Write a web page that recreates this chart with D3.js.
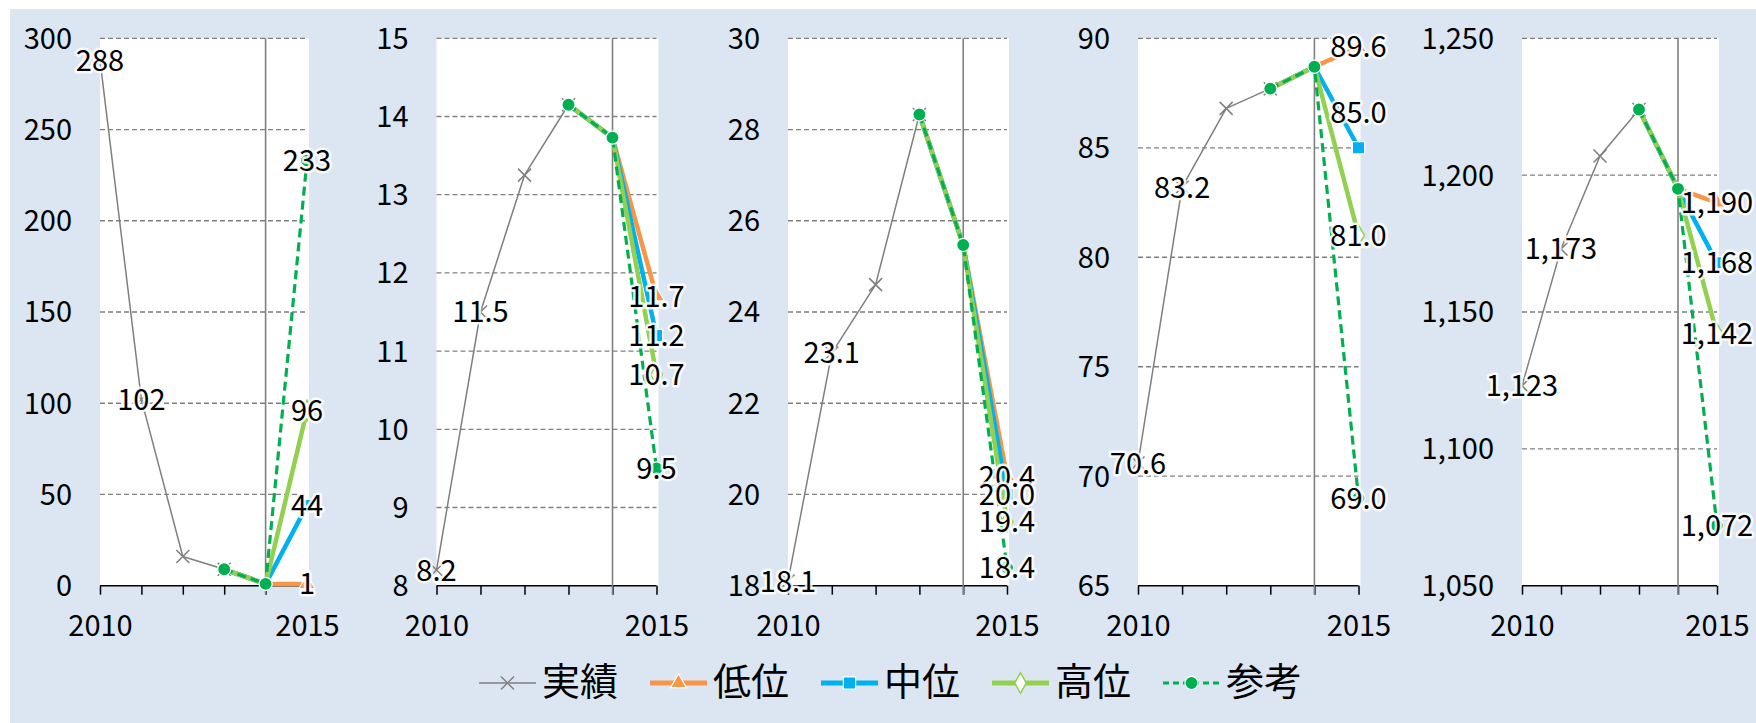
<!DOCTYPE html>
<html>
<head>
<meta charset="utf-8">
<title>推計</title>
<script src="https://cdn.jsdelivr.net/npm/d3@7"></script>
<style>
body { margin: 0; background: #fff; }
svg { display: block; }
text { font-family: "Noto Sans CJK JP", "Noto Sans", sans-serif; fill: #000; }
</style>
</head>
<body>
<div id="chart"></div>
<script>
var years = [2010, 2011, 2012, 2013, 2014, 2015];
var actualYears = [2010, 2011, 2012, 2013];

var seriesNames = ["実績", "低位", "中位", "高位", "参考"];

// y axis of each small chart: [min, max, step]
var domains = [[0, 300, 50], [8, 15, 1], [18, 30, 2], [65, 90, 5], [1050, 1250, 50]];

// 実績 2010-2013
var actual = [
    [288, 102, 16, 9],
    [8.2, 11.5, 13.25, 14.15],
    [18.1, 23.1, 24.6, 28.33],
    [70.6, 83.2, 86.8, 87.7],
    [1123, 1173, 1207, 1224]
];
// shared start of the projections, 2013 and 2014
var projStart = [
    [9, 1],
    [14.15, 13.73],
    [28.33, 25.47],
    [87.7, 88.7],
    [1224, 1195]
];
// 2015: 低位, 中位, 高位, 参考
var proj2015 = [
    [1, 44, 96, 233],
    [11.7, 11.2, 10.7, 9.5],
    [20.4, 20.0, 19.4, 18.4],
    [89.6, 85.0, 81.0, 69.0],
    [1190, 1168, 1142, 1072]
];
var labelFormats = [d3.format("d"), d3.format(".1f"), d3.format(".1f"), d3.format(".1f"), d3.format(",")];
var tickFormats = [d3.format("d"), d3.format("d"), d3.format("d"), d3.format("d"), d3.format(",")];

// layout
var W = 1756, H = 723;
var plotX = [[100, 307], [436.5, 656.5], [788, 1007], [1138, 1358.5], [1522, 1717]];
var plotTop = 38.3, plotBottom = 585.7;
// one label was dragged up in the original
var labelNudge = { "3-中位": -35 };

var colors = { "実績": "#7f7f7f", "低位": "#f79646", "中位": "#00b0f0", "高位": "#92d050", "参考": "#00b050" };

var svg = d3.select("#chart").append("svg")
    .attr("width", W)
    .attr("height", H);

svg.append("rect")
    .attr("x", 10).attr("y", 9)
    .attr("width", W - 10).attr("height", H - 9)
    .attr("fill", "#dce6f2");

// clipped titles above the panel
[[390, "（"], [520, "）"], [1088, "（"], [1149, "）"], [1425, "（"], [1484, "）"]].forEach(function(t) {
    svg.append("text")
        .attr("x", t[0]).attr("y", -3)
        .attr("text-anchor", "middle")
        .style("font-size", "30px")
        .style("fill", "#4472c4")
        .text(t[1]);
});

function markerPath(name) {
    if (name == "実績") return "M-6.5,-6.5L6.5,6.5M-6.5,6.5L6.5,-6.5";
    if (name == "低位") return d3.symbol(d3.symbolTriangle, 110)();
    if (name == "中位") return d3.symbol(d3.symbolSquare, 150)();
    if (name == "高位") return d3.symbol(d3.symbolDiamond, 120)();
    return d3.symbol(d3.symbolCircle, 135)();
}

function styleLine(sel, name) {
    sel.attr("fill", "none")
        .attr("stroke", colors[name])
        .attr("stroke-linejoin", "round")
        .attr("stroke-width", name == "実績" ? 1.5 : (name == "参考" ? 3.2 : 4.5))
        .attr("stroke-dasharray", name == "参考" ? "9,5" : null);
}

function styleMarker(sel, name) {
    if (name == "実績") {
        sel.attr("fill", "none").attr("stroke", colors[name]).attr("stroke-width", 1.5);
    } else if (name == "高位") {
        sel.attr("fill", "#fff").attr("stroke", colors[name]).attr("stroke-width", 1.5);
    } else {
        sel.attr("fill", colors[name]).attr("stroke", "#fff").attr("stroke-width", 1.2);
    }
}

domains.forEach(function(dom, p) {
    var g = svg.append("g").attr("class", "panel");
    var x = d3.scalePoint().domain(years).range(plotX[p]);
    var y = d3.scaleLinear().domain([dom[0], dom[1]]).range([plotBottom, plotTop]);
    var ticks = d3.range(dom[0], dom[1] + dom[2] / 2, dom[2]);

    g.append("rect")
        .attr("x", plotX[p][0]).attr("y", plotTop)
        .attr("width", plotX[p][1] - plotX[p][0] + 2)
        .attr("height", plotBottom - plotTop)
        .attr("fill", "#fff");

    // gridlines
    g.selectAll(".grid")
        .data(ticks.slice(1))
      .enter().append("line")
        .attr("x1", plotX[p][0]).attr("x2", plotX[p][1])
        .attr("y1", d => y(d)).attr("y2", d => y(d))
        .attr("stroke", "#808080")
        .attr("stroke-width", 1.3)
        .attr("stroke-dasharray", "5,3");

    // y labels
    g.selectAll(".ylab")
        .data(ticks)
      .enter().append("text")
        .attr("x", plotX[p][0] - 28)
        .attr("y", d => y(d))
        .attr("dy", "0.36em")
        .attr("text-anchor", "end")
        .style("font-size", "29px")
        .text(d => tickFormats[p](d));

    // x axis
    var xAxis = d3.axisBottom(x)
        .tickSize(9)
        .tickFormat(d => (d == 2010 || d == 2015) ? d : "");
    var ax = g.append("g")
        .attr("transform", "translate(0," + plotBottom + ")")
        .call(xAxis);
    ax.select(".domain").attr("d", "M" + plotX[p][0] + ",0H" + plotX[p][1]).attr("stroke", "#000").attr("stroke-width", 1.5);
    ax.selectAll(".tick line").attr("stroke", "#000").attr("stroke-width", 1.5);
    ax.selectAll(".tick text")
        .attr("y", 50)
        .attr("dy", 0)
        .style("font-size", "29px")
        .style("font-family", "'Noto Sans CJK JP', sans-serif")
        .attr("fill", "#000");

    // separator between 実績 and 推計
    g.append("line")
        .attr("x1", x(2014)).attr("x2", x(2014))
        .attr("y1", plotTop).attr("y2", plotBottom + 9)
        .attr("stroke", "#808080")
        .attr("stroke-width", 1.6);

    var line = d3.line().x(d => x(d[0])).y(d => y(d[1]));

    var data = {};
    data["実績"] = actualYears.map((yr, i) => [yr, actual[p][i]]);
    seriesNames.slice(1).forEach(function(name, k) {
        data[name] = [[2013, projStart[p][0]], [2014, projStart[p][1]], [2015, proj2015[p][k]]];
    });

    seriesNames.forEach(function(name) {
        g.append("path")
            .datum(data[name])
            .attr("d", line)
            .call(styleLine, name);
        // the shared 2013/2014 points only show the 参考 dot
        var pts = (name == "実績" || name == "参考") ? data[name] : data[name].slice(2);
        g.selectAll(null)
            .data(pts)
          .enter().append("path")
            .attr("d", markerPath(name))
            .attr("transform", d => "translate(" + x(d[0]) + "," + y(d[1]) + ")")
            .call(styleMarker, name);
    });

    // data labels: 実績 2010, 2011 and every projection in 2015
    var labels = data["実績"].slice(0, 2).map(d => [d[0], d[1], "実績"]);
    seriesNames.slice(1).forEach(function(name) { labels.push([2015, data[name][2][1], name]); });
    g.selectAll(".dlab")
        .data(labels)
      .enter().append("text")
        .attr("x", d => x(d[0]))
        .attr("y", d => y(d[1]) + (labelNudge[p + "-" + d[2]] || 0))
        .attr("dy", "0.36em")
        .attr("text-anchor", "middle")
        .style("font-size", "29px")
        .style("paint-order", "stroke")
        .style("stroke", "rgba(255,255,255,0.85)")
        .style("stroke-width", "5px")
        .style("stroke-linejoin", "round")
        .text(d => labelFormats[p](d[1]));
});

// legend
var legend = svg.append("g")
    .attr("transform", "translate(479,683)");
var item = legend.selectAll(".item")
    .data(seriesNames)
  .enter().append("g")
    .attr("transform", (d, i) => "translate(" + (i * 171) + ",0)");
item.append("path")
    .attr("d", "M0,0H57")
    .each(function(d) { d3.select(this).call(styleLine, d); })
    .attr("stroke-dasharray", d => d == "参考" ? "6,4" : null)
    .attr("stroke-width", d => d == "実績" ? 1.5 : (d == "参考" ? 3.2 : 5));
item.append("path")
    .attr("d", d => markerPath(d))
    .attr("transform", "translate(28.5,0)")
    .each(function(d) { d3.select(this).call(styleMarker, d); });
item.append("text")
    .attr("x", 63)
    .attr("y", -2)
    .attr("dy", "0.36em")
    .style("font-size", "38px")
    .text(d => d);
</script>
</body>
</html>
